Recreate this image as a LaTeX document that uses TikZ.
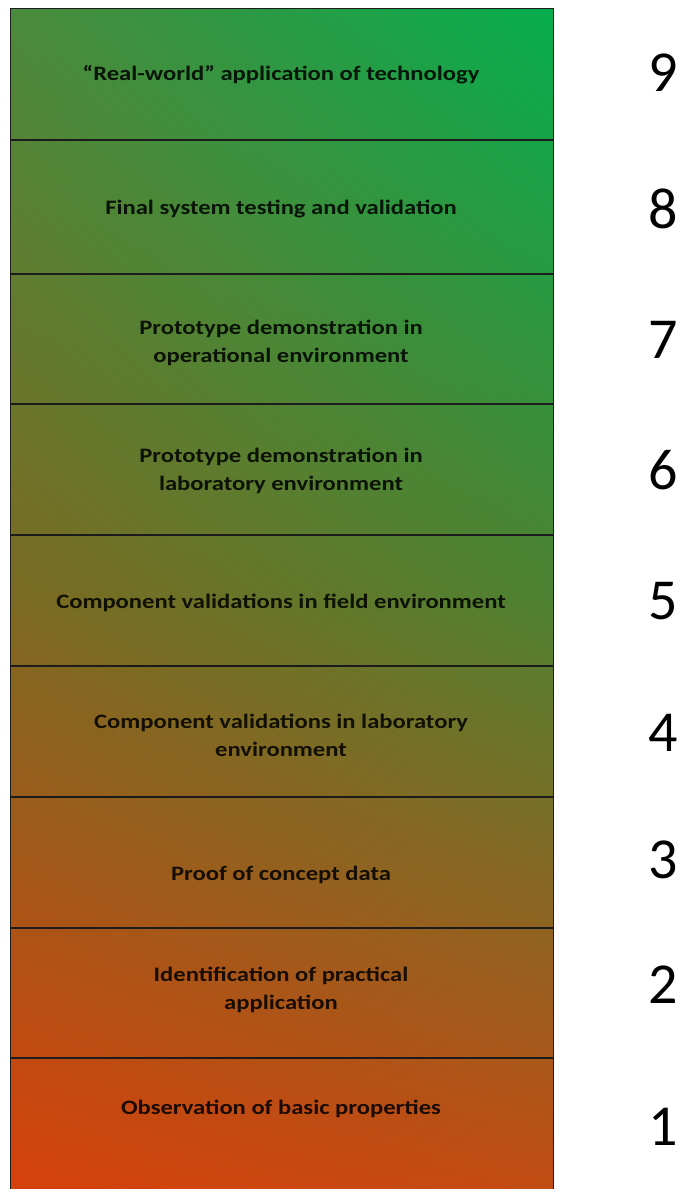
\documentclass[tikz,border=0pt]{standalone}
\usepackage{fontspec}
\setmainfont{Carlito}
\newfontfamily\lblfont[FakeStretch=1.2]{Carlito}
\usetikzlibrary{shadings}
\definecolor{tl}{HTML}{4A8A3C}
\definecolor{tr}{HTML}{06AE4E}
\definecolor{ml}{HTML}{7C6A22}
\definecolor{mr}{HTML}{4E8232}
\definecolor{bl}{HTML}{D6400C}
\definecolor{br}{HTML}{C24C14}
\definecolor{linec}{HTML}{1C1C1C}
\tikzset{
  lbl/.style={font=\lblfont\bfseries\fontsize{20.5}{28}\selectfont, text=black, text opacity=0.85, align=center, inner sep=0pt},
  num/.style={font=\fontsize{58}{58}\selectfont, text=black, inner sep=0pt},
  divider/.style={draw=linec, line width=1.6pt},
  frame/.style={draw=linec, line width=1pt}
}
\begin{document}
\begin{tikzpicture}[x=1pt,y=-1pt]
\useasboundingbox (0,0) rectangle (682,1189);
\fill[white] (0,0) rectangle (682,1189);
\shade[upper left=tl, upper right=tr, lower left=ml, lower right=mr] (10,8) rectangle (553,598.6);
\shade[upper left=ml, upper right=mr, lower left=bl, lower right=br] (10,598) rectangle (553,1189);
\draw[frame] (10,1189) -- (10,8) -- (553,8) -- (553,1189);
\foreach \y in {140,274,404,535,666,797,928,1058}
  \draw[divider] (10,\y) -- (553,\y);
\node[lbl] (t9) at (281,75) {“Real-world” application of technology};
\node[lbl] (t8) at (281,209) {Final system testing and validation};
\node[lbl] (t7) at (281,343) {Prototype demonstration in\\operational environment};
\node[lbl] (t6) at (281,471) {Prototype demonstration in\\laboratory environment};
\node[lbl] (t5) at (281,603) {Component validations in field environment};
\node[lbl] (t4) at (281,735) {Component validations in laboratory\\environment};
\node[lbl] (t3) at (281,875) {Proof of concept data};
\node[lbl] (t2) at (281,990) {Identification of practical\\application};
\node[lbl] (t1) at (281,1109) {Observation of basic properties};
\node[num] (n9) at (663,73) {9};
\node[num] (n8) at (663,209) {8};
\node[num] (n7) at (663,340) {7};
\node[num] (n6) at (663,470) {6};
\node[num] (n5) at (663,601) {5};
\node[num] (n4) at (663,733) {4};
\node[num] (n3) at (663,860) {3};
\node[num] (n2) at (663,985) {2};
\node[num] (n1) at (663,1127) {1};
\end{tikzpicture}
\end{document}
